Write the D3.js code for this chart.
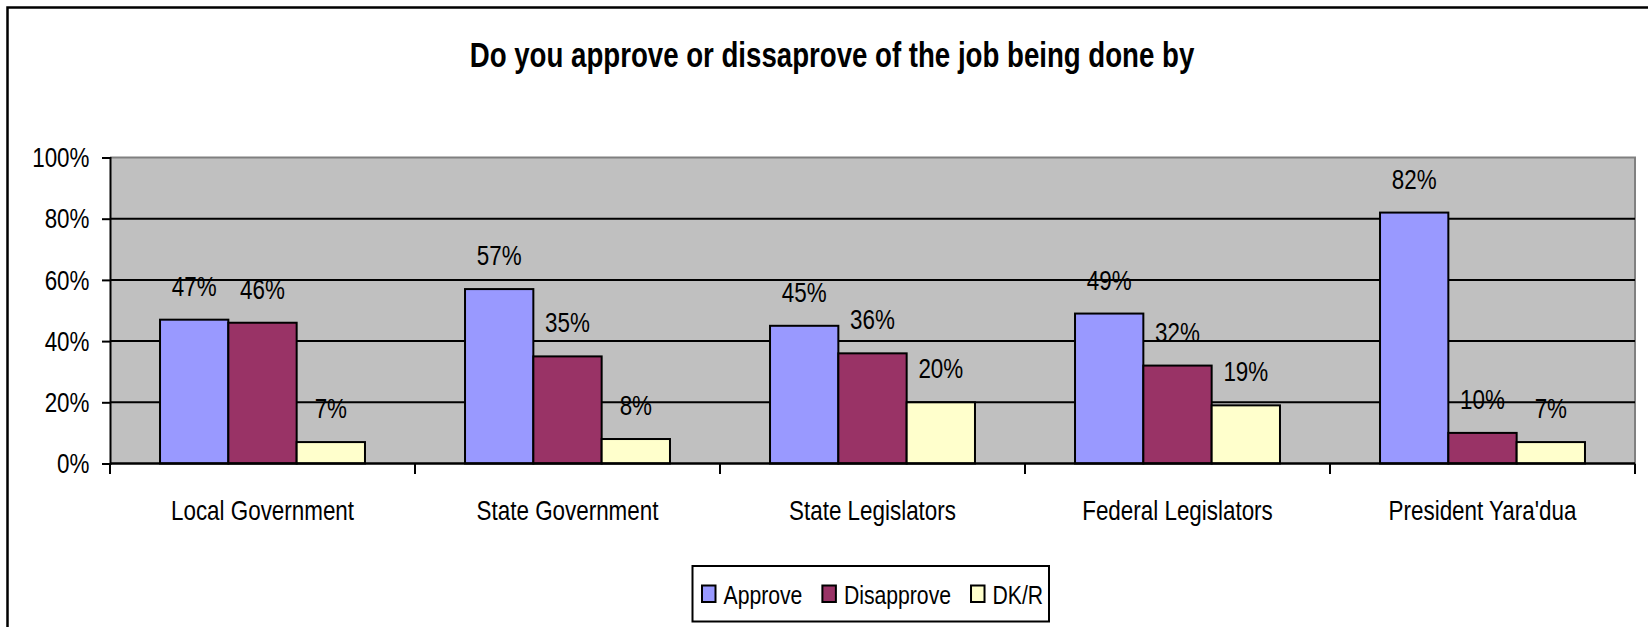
<!DOCTYPE html>
<html>
<head>
<meta charset="utf-8">
<script src="https://cdn.jsdelivr.net/npm/d3@7"></script>
<style>
  html, body { margin: 0; padding: 0; background: #fff; }
  svg { display: block; }
  text { font-family: "Liberation Sans", Arial, sans-serif; fill: #000; }
</style>
</head>
<body>
<svg id="chart" width="1648" height="627"></svg>
<script>
// ---- data ----
const categories = ["Local Government", "State Government", "State Legislators", "Federal Legislators", "President Yara'dua"];
const seriesNames = ["Approve", "Disapprove", "DK/R"];
const approve = [47, 57, 45, 49, 82];
const disapprove = [46, 35, 36, 32, 10];
const dkr = [7, 8, 20, 19, 7];
const yTicks = [0, 20, 40, 60, 80, 100];
const titleText = "Do you approve or dissaprove of the job being done by";

// ---- styling / layout ----
const colors = { "Approve": "#9999FF", "Disapprove": "#993366", "DK/R": "#FFFFCC" };
const seriesValues = { "Approve": approve, "Disapprove": disapprove, "DK/R": dkr };
const SX = 0.815;        // horizontal condensation of the text
const FS = 27.5;          // base font size
const plot = { left: 110, right: 1635, top: 157.5, bottom: 463.5 };

const svg = d3.select("#chart");

function label(parent, x, y, str, anchor, size, weight, sx) {
  return parent.append("text")
    .attr("transform", `translate(${x},${y}) scale(${sx || SX},1)`)
    .attr("text-anchor", anchor || "middle")
    .style("font-size", (size || FS) + "px")
    .style("font-weight", weight || "normal")
    .text(str);
}

// outer frame (extends beyond the canvas on the right and bottom)
svg.append("path")
  .attr("d", "M7.5,700 L7.5,7.5 L1700,7.5")
  .attr("fill", "none").attr("stroke", "#000").attr("stroke-width", 2.5);

// title
label(svg, 832, 66.5, titleText, "middle", 35, "bold", 0.79);

// scales
const x0 = d3.scaleBand().domain(categories).range([plot.left, plot.right]).padding(0);
const bw = x0.bandwidth();
const x1 = d3.scaleBand().domain(seriesNames).range([bw * 0.164, bw * 0.836]).padding(0);
const y = d3.scaleLinear().domain([0, 100]).range([plot.bottom, plot.top]);

// plot background
svg.append("rect")
  .attr("x", plot.left).attr("y", plot.top)
  .attr("width", plot.right - plot.left).attr("height", plot.bottom - plot.top)
  .attr("fill", "#C0C0C0");

// plot border (top & right, gray)
svg.append("path")
  .attr("d", `M${plot.left},${plot.top} L${plot.right},${plot.top} L${plot.right},${plot.bottom}`)
  .attr("fill", "none").attr("stroke", "#808080").attr("stroke-width", 2);

// gridlines
svg.append("g").selectAll("line")
  .data(yTicks.filter(t => t > 0 && t < 100))
  .join("line")
  .attr("x1", plot.left).attr("x2", plot.right)
  .attr("y1", d => y(d)).attr("y2", d => y(d))
  .attr("stroke", "#000").attr("stroke-width", 2);

// bars
const groups = svg.append("g").selectAll("g")
  .data(categories)
  .join("g")
  .attr("transform", d => `translate(${x0(d)},0)`);

groups.each(function(cat, ci) {
  const g = d3.select(this);
  seriesNames.forEach(s => {
    const v = seriesValues[s][ci];
    g.append("rect")
      .attr("x", x1(s)).attr("y", y(v))
      .attr("width", x1.bandwidth()).attr("height", y(0) - y(v))
      .attr("fill", colors[s]).attr("stroke", "#000").attr("stroke-width", 2);
  });
  seriesNames.forEach(s => {
    const v = seriesValues[s][ci];
    label(g, x1(s) + x1.bandwidth() / 2, y(v) - 24, v + "%", "middle");
  });
});

// y axis
const yAxis = d3.axisLeft(y).tickValues(yTicks).tickSize(8).tickPadding(12).tickFormat(d => d + "%");
const yg = svg.append("g").attr("transform", `translate(${plot.left},0)`).call(yAxis);
yg.select(".domain").attr("stroke", "#000").attr("stroke-width", 2);
yg.selectAll(".tick line").attr("stroke", "#000").attr("stroke-width", 2);
yg.selectAll(".tick text").remove();
yTicks.forEach(t => label(svg, 89.5, y(t) + 9.6, t + "%", "end"));

// x axis line + ticks at category boundaries
svg.append("line")
  .attr("x1", plot.left).attr("x2", plot.right)
  .attr("y1", plot.bottom).attr("y2", plot.bottom)
  .attr("stroke", "#000").attr("stroke-width", 2.5);
const boundaries = categories.map(c => x0(c)).concat([plot.right]);
svg.append("g").selectAll("line")
  .data(boundaries)
  .join("line")
  .attr("x1", d => d).attr("x2", d => d)
  .attr("y1", plot.bottom).attr("y2", plot.bottom + 10.5)
  .attr("stroke", "#000").attr("stroke-width", 2);

// x labels
categories.forEach(c => label(svg, x0(c) + bw / 2, 520, c, "middle"));

// legend
const lg = svg.append("g");
lg.append("rect")
  .attr("x", 692.5).attr("y", 566).attr("width", 356.5).attr("height", 55.5)
  .attr("fill", "#fff").attr("stroke", "#000").attr("stroke-width", 2);
let lx = 702;
seriesNames.forEach(s => {
  lg.append("rect")
    .attr("x", lx).attr("y", 585.5).attr("width", 13.5).attr("height", 16.5)
    .attr("fill", colors[s]).attr("stroke", "#000").attr("stroke-width", 2);
  const t = label(lg, lx + 21.5, 604, s, "start", 26);
  const w = t.node().getComputedTextLength() * SX;
  lx += 21.5 + w + 20;
});
</script>
</body>
</html>
